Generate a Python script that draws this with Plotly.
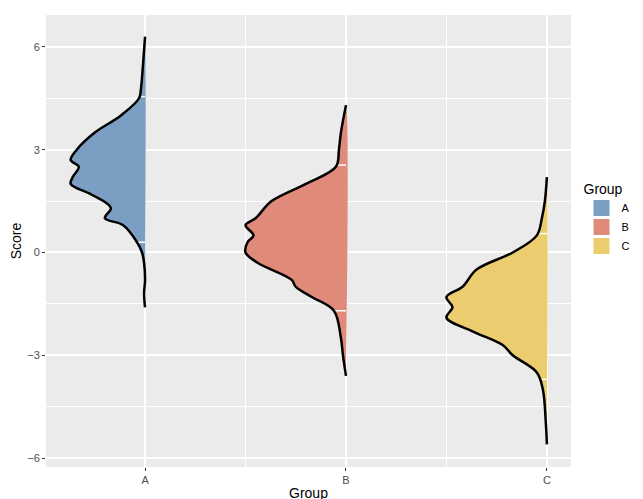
import numpy as np
import plotly.graph_objects as go

groups = ["A", "B", "C"]
colors = ["#7A9FC2", "#E08B7A", "#EBCD70"]

# density profile: score values and half-width (in category units)
a_y = [6.3, 5.5, 4.8, 4.5, 4.0, 3.5, 3.0, 2.7, 2.5, 2.2, 2.0, 1.7, 1.3, 1.0, 0.8, 0.3, 0.0, -0.3, -0.8, -1.2, -1.6]
a_w = [0.0, 0.01, 0.02, 0.03, 0.12, 0.25, 0.34, 0.37, 0.33, 0.36, 0.37, 0.27, 0.17, 0.20, 0.11, 0.04, 0.015, 0.005, 0.0, 0.005, 0.0]
b_y = [4.3, 3.5, 3.0, 2.5, 2.0, 1.5, 1.0, 0.8, 0.5, 0.3, 0.0, -0.3, -0.8, -1.0, -1.3, -1.7, -2.5, -3.0, -3.6]
b_w = [0.0, 0.025, 0.035, 0.05, 0.2, 0.37, 0.45, 0.5, 0.46, 0.49, 0.5, 0.44, 0.27, 0.25, 0.17, 0.06, 0.025, 0.015, 0.0]
c_y = [2.2, 1.5, 1.0, 0.5, 0.0, -0.5, -1.0, -1.3, -1.6, -1.9, -2.3, -2.7, -3.0, -3.5, -4.0, -5.0, -5.6]
c_w = [0.0, 0.01, 0.025, 0.05, 0.17, 0.35, 0.42, 0.5, 0.47, 0.5, 0.37, 0.22, 0.17, 0.05, 0.02, 0.005, 0.0]
quantiles = [[4.55, 0.3], [2.55, -1.7], [0.55, -3.7]]

profiles = [(a_y, a_w), (b_y, b_w), (c_y, c_w)]

fig = go.Figure()
for i, (g, col, (ys, ws), qs) in enumerate(zip(groups, colors, profiles, quantiles)):
    pos = i + 1
    ys = np.array(ys)
    xs = pos - np.array(ws)
    fig.add_trace(go.Scatter(
        x=list(xs) + [pos, pos], y=list(ys) + [ys[-1], ys[0]],
        fill="toself", fillcolor=col, mode="none", name=g,
        line_shape="spline", showlegend=False, hoverinfo="skip"))
    for q in qs:
        wq = np.interp(q, ys[::-1], np.array(ws)[::-1])
        fig.add_trace(go.Scatter(x=[pos - wq, pos], y=[q, q], mode="lines",
                                 line=dict(color="white", width=1.5), showlegend=False))
    fig.add_trace(go.Scatter(x=xs, y=ys, mode="lines", line_shape="spline",
                             line=dict(color="black", width=2.5), showlegend=False))
    # legend key
    fig.add_trace(go.Scatter(x=[None], y=[None], mode="markers", name=g,
                             marker=dict(symbol="square", size=20, color=col)))

fig.update_layout(
    width=643, height=499, autosize=False, plot_bgcolor="#EBEBEB", paper_bgcolor="white",
    margin=dict(l=38, r=80, t=7, b=40, autoexpand=False),
    font=dict(family="Liberation Sans", size=11, color="#4D4D4D"),
    legend=dict(title=dict(text="Group", font=dict(size=14, color="black")),
                font=dict(size=11, color="black"), x=1.02, y=0.55, yanchor="middle",
                tracegroupgap=0),
    xaxis=dict(range=[0.507, 3.12], tickvals=[1, 2, 3], ticktext=groups,
               gridcolor="white", gridwidth=1.5, zeroline=False, ticks="outside",
               ticklen=3, tickcolor="#333", automargin=False,
               minor=dict(tickvals=[1.5, 2.5], gridcolor="white", gridwidth=0.7),
               title=dict(text="Group", font=dict(size=14, color="black"), standoff=2)),
    yaxis=dict(range=[-6.26, 6.93], tickvals=[-6, -3, 0, 3, 6],
               gridcolor="white", gridwidth=1.5, zeroline=False, ticks="outside",
               ticklen=3, tickcolor="#333", automargin=False,
               minor=dict(tickvals=[-4.5, -1.5, 1.5, 4.5], gridcolor="white", gridwidth=0.7),
               title=dict(text="Score", font=dict(size=14, color="black"), standoff=2)),
)
fig.write_html("out.html")
